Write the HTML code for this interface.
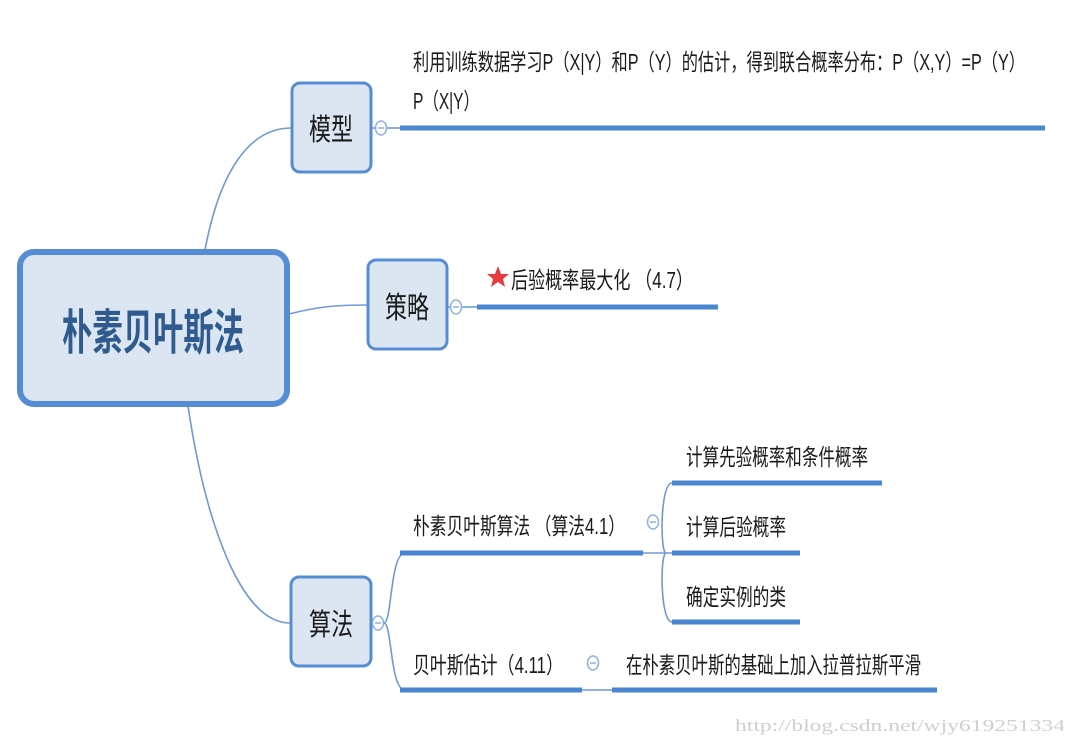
<!DOCTYPE html>
<html><head><meta charset="utf-8"><style>
html,body{margin:0;padding:0;background:#fff;}
svg{display:block;}
text{font-family:"Liberation Sans","Noto Sans CJK SC",sans-serif;fill:#1a1a1a;}
</style></head><body>
<svg width="1075" height="746" viewBox="0 0 1075 746" xmlns="http://www.w3.org/2000/svg">
<g fill="none" stroke="#6f9ad6" stroke-width="1.6">
<path d="M205 250 C220 170 250 128 291 128"/>
<path d="M289 314 C320 306 340 305 367 305"/>
<path d="M188 406 C205 520 240 623 290 623"/>
<path d="M371 128 L375 128"/><path d="M387 128 L400 128"/>
<path d="M447 307 L450 307"/><path d="M462 307 L477 307"/>
<path d="M371 623 L373 623"/>
<path d="M384 623 C392 623 390 553 405 553"/>
<path d="M384 623 C392 623 390 690 405 690"/>
<path d="M643 553 L672 553"/>
<path d="M666 553 C660 553 660 483 672 483"/>
<path d="M666 553 C660 553 660 622 672 622"/>
<path d="M582 690 L612 690"/>
</g>
<rect x="20" y="252" width="267" height="152" rx="14" fill="#dce6f2" stroke="#548dd4" stroke-width="6"/>
<text x="153" y="349" font-size="48" font-weight="bold" text-anchor="middle" style="fill:#2f5b8f" textLength="182" lengthAdjust="spacingAndGlyphs">朴素贝叶斯法</text>
<g fill="#dce6f2" stroke="#548dd4" stroke-width="3">
<rect x="292" y="83" width="79" height="89" rx="8"/>
<rect x="368" y="260" width="79" height="89" rx="8"/>
<rect x="291" y="577" width="80" height="89" rx="8"/>
</g>
<text x="331" y="140" font-size="30" text-anchor="middle" textLength="44" lengthAdjust="spacingAndGlyphs">模型</text>
<text x="407" y="318" font-size="30" text-anchor="middle" textLength="44" lengthAdjust="spacingAndGlyphs">策略</text>
<text x="331" y="635" font-size="30" text-anchor="middle" textLength="44" lengthAdjust="spacingAndGlyphs">算法</text>
<g fill="#fff" stroke="#8fb0dc" stroke-width="1.5">
<ellipse cx="381" cy="128" rx="5.5" ry="7"/>
<ellipse cx="456" cy="307" rx="5.5" ry="7"/>
<ellipse cx="378" cy="623" rx="5.5" ry="7"/>
<ellipse cx="653" cy="522" rx="5.5" ry="7"/>
<ellipse cx="593" cy="663" rx="5.5" ry="7"/>
</g>
<g stroke="#8fb0dc" stroke-width="1.5">
<path d="M378 128h6M453 307h6M375 623h6M650 522h6M590 663h6"/>
</g>
<g stroke="#4a86cf" stroke-width="5">
<path d="M400 128H1045"/>
<path d="M477 307H718"/>
<path d="M400 553H643"/>
<path d="M672 483H882"/>
<path d="M672 553H800"/>
<path d="M672 622H800"/>
<path d="M400 690H582"/>
<path d="M612 690H937"/>
</g>
<text x="413" y="70" font-size="23" textLength="612" lengthAdjust="spacingAndGlyphs">利用训练数据学习P（X|Y）和P（Y）的估计，得到联合概率分布：P（X,Y）=P（Y）</text>
<text x="413" y="109" font-size="23" textLength="66" lengthAdjust="spacingAndGlyphs">P（X|Y）</text>
<polygon points="498,266 501,274 509,274 503,279 505,287 498,282 491,287 493,279 487,274 495,274" fill="#e63c3c"/>
<text x="511" y="288" font-size="23" textLength="182" lengthAdjust="spacingAndGlyphs">后验概率最大化 （4.7）</text>
<text x="413" y="534" font-size="23" textLength="212" lengthAdjust="spacingAndGlyphs">朴素贝叶斯算法 （算法4.1）</text>
<text x="686" y="465" font-size="23" textLength="182" lengthAdjust="spacingAndGlyphs">计算先验概率和条件概率</text>
<text x="686" y="535" font-size="23" textLength="100" lengthAdjust="spacingAndGlyphs">计算后验概率</text>
<text x="686" y="605" font-size="23" textLength="100" lengthAdjust="spacingAndGlyphs">确定实例的类</text>
<text x="413" y="673" font-size="23" textLength="150" lengthAdjust="spacingAndGlyphs">贝叶斯估计（4.11）</text>
<text x="626" y="673" font-size="23" textLength="295" lengthAdjust="spacingAndGlyphs">在朴素贝叶斯的基础上加入拉普拉斯平滑</text>
<text x="735" y="731" font-size="17" style="fill:#cfcfcf;font-family:'Liberation Serif',serif" textLength="330" lengthAdjust="spacingAndGlyphs">http://blog.csdn.net/wjy619251334</text>
</svg>
</body></html>
